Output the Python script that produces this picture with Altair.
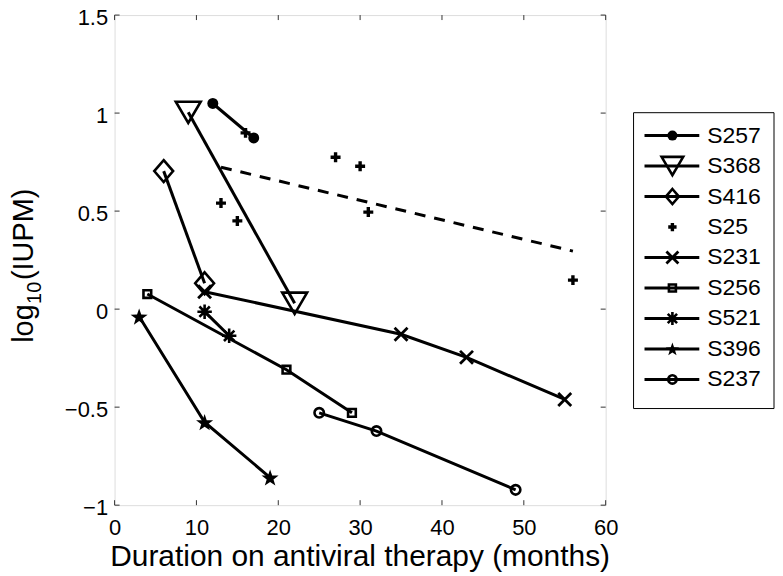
import altair as alt
import pandas as pd

FONT = "Liberation Sans"

# ---------------- data ----------------
names = ["S257", "S368", "S416", "S25", "S231", "S256", "S521", "S396", "S237"]

s257_x = [12, 17]
s257_y = [1.049, 0.873]
s368_x = [9, 22]
s368_y = [1.004, 0.03]
s416_x = [6, 11]
s416_y = [0.704, 0.132]
s25_x = [13, 15, 16, 27, 30, 31, 56]
s25_y = [0.541, 0.450, 0.899, 0.775, 0.729, 0.495, 0.148]
s25_trend_x = [13, 56]
s25_trend_y = [0.724, 0.296]
s231_x = [11, 35, 43, 55]
s231_y = [0.089, -0.128, -0.246, -0.461]
s256_x = [4, 21, 29]
s256_y = [0.077, -0.309, -0.529]
s521_x = [11, 14]
s521_y = [-0.013, -0.136]
s396_x = [3, 11, 19]
s396_y = [-0.038, -0.577, -0.859]
s237_x = [25, 32, 49]
s237_y = [-0.529, -0.622, -0.922]

x_ticks = [0, 10, 20, 30, 40, 50, 60]
y_ticks = [-1, -0.5, 0, 0.5, 1, 1.5]

series_x = [s257_x, s368_x, s416_x, s25_x, s231_x, s256_x, s521_x, s396_x, s237_x]
series_y = [s257_y, s368_y, s416_y, s25_y, s231_y, s256_y, s521_y, s396_y, s237_y]

# ---------------- styles ----------------
W, H = 493, 492
TRI = "M-1,-0.85L1,-0.85L0,0.85Z"
DIAM = "M0,-1L0.86,0L0,1L-0.86,0Z"
PLUS = "M-1,0L1,0M0,-1L0,1"
XMK = "M-1,-1L1,1M-1,1L1,-1"
AST = "M-1,0L1,0M0,-1L0,1M-0.72,-0.72L0.72,0.72M-0.72,0.72L0.72,-0.72"
STAR = ("M0,-0.905L0.235,-0.229L0.951,-0.214L0.38,0.219L0.588,0.904"
        "L0,0.495L-0.588,0.904L-0.38,0.219L-0.951,-0.214L-0.235,-0.229Z")

# size = plot marker size, lsize = legend marker size
styles = {
    "S257": dict(shape="circle", filled=True, size=121, lsize=100, sw=2.6, line=True),
    "S368": dict(shape=TRI, filled=False, size=625, lsize=470, sw=2.6, line=True),
    "S416": dict(shape=DIAM, filled=False, size=484, lsize=230, sw=2.6, line=True),
    "S25": dict(shape=PLUS, filled=False, size=100, lsize=70, sw=3.4, line=False),
    "S231": dict(shape=XMK, filled=False, size=169, lsize=144, sw=2.8, line=True),
    "S256": dict(shape="square", filled=False, size=60, lsize=49, sw=2.6, line=True),
    "S521": dict(shape=AST, filled=False, size=210, lsize=169, sw=2.6, line=True),
    "S396": dict(shape=STAR, filled=True, size=324, lsize=200, sw=2.6, line=True),
    "S237": dict(shape="circle", filled=False, size=90, lsize=70, sw=2.6, line=True),
}

xscale = alt.Scale(domain=[0, 60], nice=False, zero=False)
yscale = alt.Scale(domain=[-1, 1.5], nice=False, zero=False)
xaxis = alt.Axis(values=x_ticks, format="d", title=None, domain=False, ticks=False,
                 grid=False, labelFont=FONT, labelFontSize=22, labelColor="black",
                 labelPadding=12, labelFlush=False)
yaxis = alt.Axis(values=y_ticks, format="~g", title=None, domain=False, ticks=False,
                 grid=False, labelFont=FONT, labelFontSize=22, labelColor="black",
                 labelPadding=7, labelFlush=False, labelOffset=2)


def X():
    return alt.X("x:Q", scale=xscale, axis=xaxis)


def Y():
    return alt.Y("y:Q", scale=yscale, axis=yaxis)


def marker(st, chart, size):
    kw = dict(shape=st["shape"], size=size, opacity=1)
    if st["filled"]:
        return chart.mark_point(filled=True, color="black", **kw)
    return chart.mark_point(filled=False, color="black", strokeWidth=st["sw"], **kw)


layers = []

# inward ticks (MATLAB style) on all four sides
xt = pd.DataFrame({"x": x_ticks})
yt = pd.DataFrame({"y": y_ticks})
tick_col = "#333333"
layers.append(alt.Chart(xt).mark_rule(color=tick_col, strokeWidth=1).encode(
    x=X(), y=alt.value(H), y2=alt.value(H - 5)))
layers.append(alt.Chart(xt).mark_rule(color=tick_col, strokeWidth=1).encode(
    x=X(), y=alt.value(0), y2=alt.value(5)))
layers.append(alt.Chart(yt).mark_rule(color=tick_col, strokeWidth=1).encode(
    y=Y(), x=alt.value(0), x2=alt.value(5)))
layers.append(alt.Chart(yt).mark_rule(color=tick_col, strokeWidth=1).encode(
    y=Y(), x=alt.value(W), x2=alt.value(W - 5)))

for name, sx, sy in zip(names, series_x, series_y):
    st = styles[name]
    df = pd.DataFrame({"x": sx, "y": sy})
    base = alt.Chart(df)
    if st["line"]:
        layers.append(base.mark_line(color="black", strokeWidth=3).encode(x=X(), y=Y()))
    layers.append(marker(st, base, st["size"]).encode(x=X(), y=Y()))
    if name == "S25":
        tdf = pd.DataFrame({"x": s25_trend_x, "y": s25_trend_y})
        layers.append(alt.Chart(tdf).mark_line(color="black", strokeWidth=3,
                                               strokeDash=[11, 9]).encode(x=X(), y=Y()))

# ---------------- legend (manual, MATLAB style) ----------------
one = pd.DataFrame({"a": [0]})
layers.append(alt.Chart(one).mark_rect(fill="white", stroke="black", strokeWidth=1).encode(
    x=alt.value(521), x2=alt.value(662), y=alt.value(98), y2=alt.value(395)))
row0, step = 121, 30.6
for i, name in enumerate(names):
    st = styles[name]
    ry = row0 + i * step
    if st["line"]:
        layers.append(alt.Chart(one).mark_rule(color="black", strokeWidth=3).encode(
            x=alt.value(532), x2=alt.value(587), y=alt.value(ry)))
    layers.append(marker(st, alt.Chart(one), st["lsize"]).encode(
        x=alt.value(560), y=alt.value(ry)))
    layers.append(alt.Chart(one).mark_text(align="left", baseline="middle", font=FONT,
                                           fontSize=23, color="black").encode(
        x=alt.value(595), y=alt.value(ry), text=alt.value(name)))

# ---------------- axis titles ----------------
layers.append(alt.Chart(one).mark_text(align="center", baseline="alphabetic", font=FONT,
                                       fontSize=30, color="black").encode(
    x=alt.value(W / 2), y=alt.value(553),
    text=alt.value("Duration on antiviral therapy (months)")))
layers.append(alt.Chart(one).mark_text(align="left", baseline="alphabetic", font=FONT,
                                       fontSize=29, angle=270, color="black").encode(
    x=alt.value(-82), y=alt.value(329), text=alt.value("log")))
layers.append(alt.Chart(one).mark_text(align="left", baseline="alphabetic", font=FONT,
                                       fontSize=20, angle=270, color="black").encode(
    x=alt.value(-74), y=alt.value(290), text=alt.value("10")))
layers.append(alt.Chart(one).mark_text(align="left", baseline="alphabetic", font=FONT,
                                       fontSize=29, angle=270, color="black").encode(
    x=alt.value(-82), y=alt.value(266), text=alt.value("(IUPM)")))

chart = alt.layer(*layers).properties(
    width=W, height=H,
    autosize=alt.AutoSizeParams(type="none"),
    padding={"left": 107, "top": 6, "right": 170, "bottom": 66},
).configure_view(stroke="#111111", strokeWidth=1).configure(background="white")

chart.save("out.html", embed_options={"renderer": "svg", "actions": False})
